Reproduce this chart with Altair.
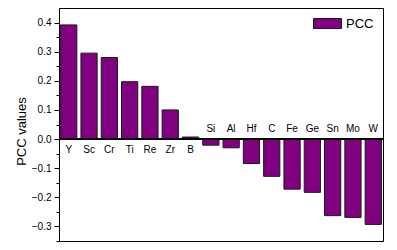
import altair as alt
import pandas as pd

elements = ["Y", "Sc", "Cr", "Ti", "Re", "Zr", "B", "Si", "Al", "Hf", "C", "Fe", "Ge", "Sn", "Mo", "W"]
pcc = [0.392, 0.295, 0.280, 0.197, 0.181, 0.100, 0.007, -0.021, -0.030, -0.084, -0.128, -0.172, -0.183, -0.263, -0.269, -0.293]
series = ["PCC"] * len(elements)
tick_vals = [-0.35, -0.3, -0.25, -0.2, -0.15, -0.1, -0.05, 0.0, 0.05, 0.1, 0.15, 0.2, 0.25, 0.3, 0.35, 0.4]

df = pd.DataFrame({"element": elements, "pcc": pcc, "series": series, "zero": [0.0] * len(elements)})

FONT = "Liberation Sans"

xenc = alt.X("element:N", sort=elements, axis=None,
             scale=alt.Scale(paddingInner=0.2, paddingOuter=0.08))
yscale = alt.Scale(domain=[-0.35, 0.45], nice=False, zero=False)
major_test = "abs(datum.value*10 - round(datum.value*10)) < 0.01"

yaxis = alt.Axis(values=tick_vals, title="PCC values",
                 labelExpr="(" + major_test + ") ? format(datum.value, '.1f') : ''",
                 tickSize={"condition": {"test": major_test, "value": 5}, "value": 3},
                 tickColor="black", domainColor="black", grid=False,
                 labelFont=FONT, labelFontSize=10, labelColor="black", labelPadding=3,
                 titleFont=FONT, titleFontSize=13, titleFontWeight="normal", titleColor="black",
                 titleX=-38, titleY=123, titleBaseline="middle")

base = alt.Chart(df)

bars = base.mark_bar(stroke="#1a1a1a", strokeWidth=1, color="#800080").encode(
    x=xenc,
    y=alt.Y("pcc:Q", scale=yscale, axis=yaxis),
    fill=alt.Fill("series:N", scale=alt.Scale(range=["#800080"]),
                  legend=alt.Legend(title=None, orient="none", legendX=262, legendY=9,
                                    symbolType="M-2.8,-1L2.8,-1L2.8,1L-2.8,1Z", symbolSize=100,
                                    symbolStrokeColor="#1a1a1a", symbolStrokeWidth=1,
                                    labelFont=FONT, labelFontSize=13, labelColor="black",
                                    labelOffset=12, padding=0)),
)

zero = base.mark_rule(color="black", strokeWidth=1).encode(
    y=alt.Y("zero:Q", scale=yscale, axis=yaxis))

pos_labels = base.transform_filter("datum.pcc >= 0").mark_text(
    font=FONT, fontSize=10, color="black", baseline="middle", dy=11
).encode(x=xenc, y=alt.Y("zero:Q", scale=yscale, axis=yaxis), text="element:N")

neg_labels = base.transform_filter("datum.pcc < 0").mark_text(
    font=FONT, fontSize=10, color="black", baseline="middle", dy=-10
).encode(x=xenc, y=alt.Y("zero:Q", scale=yscale, axis=yaxis), text="element:N")

chart = alt.layer(bars, zero, pos_labels, neg_labels).properties(
    width=324, height=233,
    autosize=alt.AutoSizeParams(type="none"),
    padding={"left": 59, "top": 8, "right": 14, "bottom": 9},
    background="white",
).configure_view(stroke="black", strokeWidth=1)

chart.save("out.html", embed_options={"renderer": "svg", "actions": False})
